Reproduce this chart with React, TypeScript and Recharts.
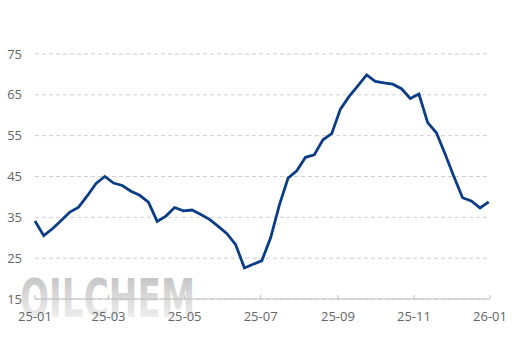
import React from 'react';
import { LineChart, Line, XAxis, YAxis, CartesianGrid } from 'recharts';

// weekly values, first week of 2025-01 onwards
const weeklyValues = [
  34.1, 30.5, 32.2, 34.2, 36.3, 37.5, 40.3, 43.3, 45.0, 43.4,
  42.8, 41.4, 40.4, 38.7, 34.0, 35.3, 37.4, 36.6, 36.8, 35.7,
  34.5, 32.8, 31.0, 28.3, 22.6, 23.5, 24.4, 30.0, 38.0, 44.6,
  46.4, 49.7, 50.3, 54.0, 55.5, 61.5, 64.6, 67.2, 69.9, 68.3,
  67.9, 67.6, 66.5, 64.1, 65.2, 58.2, 55.7, 50.5, 45.0, 39.8,
  39.0, 37.3, 38.8,
];
const xTickLabels = ['25-01', '25-03', '25-05', '25-07', '25-09', '25-11', '26-01'];
const yTicks = [15, 25, 35, 45, 55, 65, 75];

const WEEK = 7 * 24 * 3600 * 1000;
const start = Date.UTC(2025, 0, 1);

const toTime = (label: string) => {
  const [yy, mm] = label.split('-').map(Number);
  return Date.UTC(2000 + yy, mm - 1, 1);
};

const data = weeklyValues.map((v, i) => ({ t: start + i * WEEK, value: v }));
const xTicks = xTickLabels.map(toTime);

const fmt = (t: number) => {
  const d = new Date(t);
  const yy = String(d.getUTCFullYear() % 100).padStart(2, '0');
  const mm = String(d.getUTCMonth() + 1).padStart(2, '0');
  return `${yy}-${mm}`;
};

const font = '"Open Sans", "Noto Sans", sans-serif';

export default function App() {
  return (
    <div style={{ position: 'absolute', left: 0, top: 0, width: 514, height: 343, background: '#fff' }}>
      {/* watermark */}
      <svg width={514} height={343} style={{ position: 'absolute', left: 0, top: 0 }}>
        <defs>
          <linearGradient id="wm" x1="0" y1="0" x2="0" y2="1">
            <stop offset="0%" stopColor="#bcbcbc" />
            <stop offset="100%" stopColor="#fafafa" />
          </linearGradient>
        </defs>
        <text
          x={20}
          y={277}
          dy="0.72em"
          fontSize={47}
          fontFamily='"DejaVu Sans", "Liberation Sans", sans-serif'
          fontWeight={700}
          fill="url(#wm)"
          textLength={175}
          lengthAdjust="spacingAndGlyphs"
          transform="translate(0,-40) scale(1,1.15)"
        >
          OILCHEM
        </text>
      </svg>
      <div style={{ position: 'absolute', left: 0, top: 0 }}>
        <LineChart width={514} height={343} data={data} margin={{ top: 54, right: 24, bottom: 14, left: 0 }}>
          <CartesianGrid vertical={false} stroke="#cfcfcf" strokeDasharray="4 3" />
          <XAxis
            dataKey="t"
            type="number"
            domain={[xTicks[0], xTicks[xTicks.length - 1]]}
            ticks={xTicks}
            tickFormatter={fmt}
            height={30}
            stroke="#bdbdbd"
            tickSize={-4}
            tickMargin={17}
            tick={{ fill: '#666', fontSize: 13, fontFamily: font }}
            interval={0}
          />
          <YAxis
            domain={[15, 75]}
            ticks={yTicks}
            width={35}
            axisLine={false}
            tickLine={false}
            tickSize={0}
            tickMargin={13}
            tick={{ fill: '#666', fontSize: 13, fontFamily: font }}
            interval={0}
          />
          <Line
            type="linear"
            dataKey="value"
            stroke="#0b3d86"
            strokeWidth={2.8}
            dot={false}
            isAnimationActive={false}
          />
        </LineChart>
      </div>
    </div>
  );
}
